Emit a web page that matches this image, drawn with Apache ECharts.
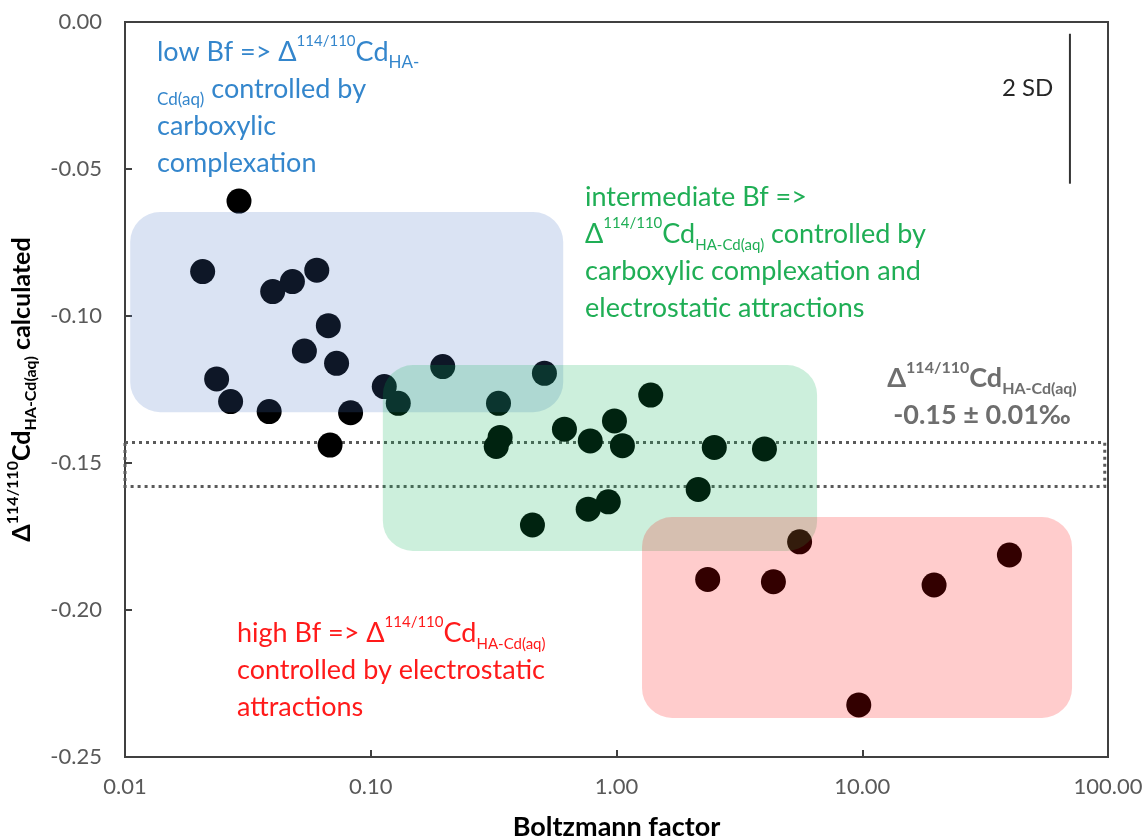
<!DOCTYPE html>
<html><head><meta charset="utf-8">
<script src="https://cdn.jsdelivr.net/npm/echarts@6/dist/echarts.min.js"></script>
<style>html,body{margin:0;padding:0;background:#fff}#c{width:1146px;height:839px}</style>
</head><body><div id="c"></div>
<script>
// Boltzmann factor (x) and calculated Δ114/110Cd HA-Cd(aq) (y)
const boltzmannFactor = [0.0291,0.0207,0.0399,0.0480,0.0603,0.0672,0.0537,0.0726,0.0236,0.0269,0.0386,0.0828,0.0683,
  0.1135,0.1294,0.1963,0.509,0.331,0.336,0.324,0.614,0.782,0.981,1.057,1.378,2.50,4.00,2.15,0.926,0.767,0.455,
  5.56,2.35,4.35,19.6,39.7,9.68];
const deltaCalc = [-0.0609,-0.0849,-0.0917,-0.0883,-0.0844,-0.1033,-0.1119,-0.1161,-0.1214,-0.1291,-0.1325,-0.1329,-0.1439,
  -0.1240,-0.1297,-0.1172,-0.1195,-0.1297,-0.1413,-0.1444,-0.1385,-0.1425,-0.1357,-0.1441,-0.1269,-0.1447,-0.1452,-0.1590,-0.1632,-0.1657,-0.1711,
  -0.1768,-0.1896,-0.1904,-0.1915,-0.1813,-0.2323];

const xTickLabels = ['0.01','0.10','1.00','10.00','100.00'];
const yTickLabels = ['-0.25','-0.20','-0.15','-0.10','-0.05','0.00'];

// shaded regimes: low / intermediate / high Bf (Bf min, Bf max, Δ top, Δ bottom)
const regionBfMin = [0.0105, 0.112, 1.27];
const regionBfMax = [0.607, 6.55, 71.4];
const regionDeltaTop = [-0.0646, -0.1167, -0.1684];
const regionDeltaBottom = [-0.1327, -0.1799, -0.2367];

// mean value band (dotted box)
const bandBf = [0.01, 97];
const bandDelta = [-0.143, -0.158];

// 2 SD bar
const sdBf = [70, 70];
const sdDelta = [-0.004, -0.055];

const regionColors = ['rgba(68,114,196,0.2)','rgba(0,176,80,0.2)','rgba(255,0,0,0.2)'];
const FONT = 'Lato';

const chart = echarts.init(document.getElementById('c'));

function richSet(color, base, bold, key, ratio, subRatio) {
  const fw = bold ? 'bold' : 'normal';
  const lh = Math.round(base * 1.36);
  const r = ratio || 0.56;
  const rs = subRatio || r;
  const mk = (fs, lineH, va) => {
    const o = {fontFamily: FONT, fontSize: fs, fontWeight: fw, lineHeight: lineH};
    o[key] = color;
    if (va) o.verticalAlign = va;
    return o;
  };
  return {
    n: mk(base, lh),
    sup: mk(Math.round(base*r), Math.round(lh*0.6), 'top'),
    sub: mk(Math.round(base*rs), Math.round(lh*0.42), 'bottom')
  };
}

const option = {
  backgroundColor: '#fff',
  animation: false,
  grid: {left: 125, right: 38, top: 22, bottom: 82, outerBoundsMode: 'none', containLabel: false,
    show: true, borderColor: '#404040', borderWidth: 2, backgroundColor: 'transparent'},
  xAxis: {
    type: 'log', logBase: 10, min: 0.01, max: 100, position: 'bottom',
    name: 'Boltzmann factor', nameLocation: 'middle', nameGap: 57,
    nameTextStyle: {fontFamily: FONT, fontSize: 27, fontWeight: 'bold', color: '#000'},
    axisLine: {onZero: false, lineStyle: {color: '#404040', width: 2}},
    axisTick: {show: true, inside: true, length: 7, lineStyle: {color: '#404040', width: 2}},
    minorTick: {show: false},
    splitLine: {show: false},
    axisLabel: {margin: 19, fontFamily: FONT, fontSize: 22, color: '#595959',
      formatter: (v, i) => xTickLabels[i] !== undefined ? xTickLabels[i] : ''}
  },
  yAxis: {
    type: 'value', min: -0.25, max: 0, interval: 0.05, position: 'left',
    name: '{n|Δ}{sup|114/110}{n|Cd}{sub|HA-Cd(aq)}{n| calculated}',
    nameLocation: 'middle', nameGap: 86, nameRotate: 90,
    nameTextStyle: {rich: richSet('#000', 25, true, 'color', 0.62)},
    axisLine: {onZero: false, lineStyle: {color: '#404040', width: 2}},
    axisTick: {show: true, inside: true, length: 7, lineStyle: {color: '#404040', width: 2}},
    splitLine: {show: false},
    axisLabel: {margin: 23, fontFamily: FONT, fontSize: 22, color: '#595959',
      formatter: (v, i) => yTickLabels[i]}
  },
  series: [
    {
      type: 'scatter', z: 2, symbol: 'circle', symbolSize: 25,
      itemStyle: {color: '#000', opacity: 1},
      data: boltzmannFactor.map((x, i) => [x, deltaCalc[i]]),
      markArea: {
        silent: true,
        itemStyle: {color: 'transparent', borderColor: '#5a5a5a', borderWidth: 3, borderType: [3, 4]},
        data: [[{coord: [bandBf[0], bandDelta[0]]}, {coord: [bandBf[1], bandDelta[1]]}]]
      }
    },
    {
      type: 'custom', z: 5, silent: true,
      renderItem: function (params, api) {
        const p0 = api.coord([api.value(0), api.value(2)]);
        const p1 = api.coord([api.value(1), api.value(3)]);
        return {type: 'rect', shape: {x: p0[0], y: p0[1], width: p1[0]-p0[0], height: p1[1]-p0[1], r: 30},
          style: {fill: regionColors[params.dataIndex]}};
      },
      encode: {x: [0, 1], y: [2, 3]},
      data: regionBfMin.map((v, i) => [v, regionBfMax[i], regionDeltaTop[i], regionDeltaBottom[i]])
    },
    {
      type: 'line', z: 6, symbol: 'none', silent: true,
      lineStyle: {color: '#333', width: 2},
      data: sdBf.map((x, i) => [x, sdDelta[i]])
    }
  ],
  graphic: [
    {type: 'text', left: 157, top: 34, z: 10, style: {
      text: '{n|low Bf => Δ}{sup|114/110}{n|Cd}{sub|HA-}\n{sub|Cd(aq)}{n| controlled by}\n{n|carboxylic}\n{n|complexation}',
      rich: richSet('#3486CC', 27, false, 'fill', 0.56, 0.62)}},
    {type: 'text', left: 585, top: 184, z: 10, style: {
      text: '{n|intermediate Bf =>}\n{n|Δ}{sup|114/110}{n|Cd}{sub|HA-Cd(aq)}{n| controlled by}\n{n|carboxylic complexation and}\n{n|electrostatic attractions}',
      rich: richSet('#1FAE55', 27, false, 'fill')}},
    {type: 'text', left: 237, top: 615, z: 10, style: {
      text: '{n|high Bf => Δ}{sup|114/110}{n|Cd}{sub|HA-Cd(aq)}\n{n|controlled by electrostatic}\n{n|attractions}',
      rich: richSet('#FF1A1A', 27, false, 'fill')}},
    {type: 'text', x: 982, y: 360, z: 10, style: {
      align: 'center', verticalAlign: 'top',
      text: '{n|Δ}{sup|114/110}{n|Cd}{sub|HA-Cd(aq)}\n{n|-0.15 ± 0.01‰}',
      rich: richSet('#6E6E6E', 27, true, 'fill', 0.6)}},
    {type: 'text', left: 1002, top: 76, z: 10, style: {
      text: '2 SD', fontFamily: FONT, fontSize: 24, fill: '#262626'}}
  ]
};
chart.setOption(option);
</script></body></html>
